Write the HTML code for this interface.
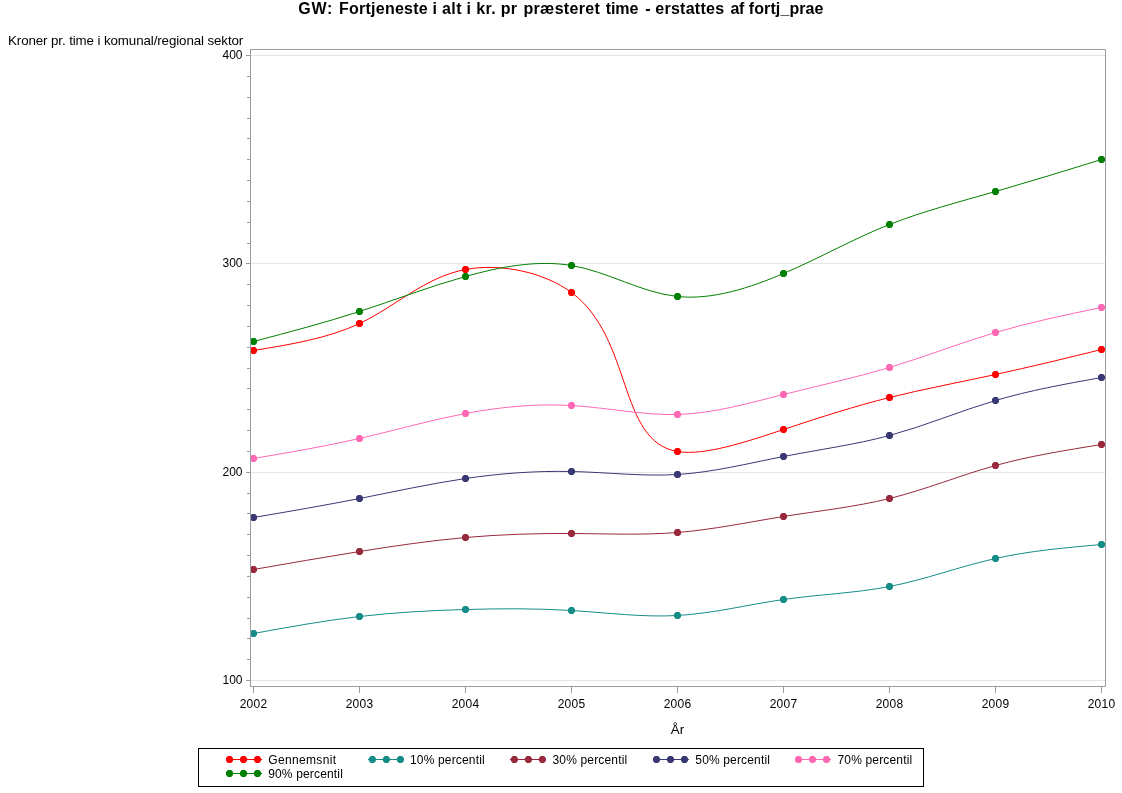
<!DOCTYPE html>
<html><head><meta charset="utf-8"><title>GW</title>
<style>
html,body{margin:0;padding:0;background:#fff;}
body{width:1122px;height:793px;overflow:hidden;position:relative;font-family:"Liberation Sans",sans-serif;color:#000;}
svg{position:absolute;left:0;top:0;will-change:transform;}
text{font-family:"Liberation Sans",sans-serif;fill:#000;}
</style></head><body>
<svg width="1122" height="793" viewBox="0 0 1122 793">
<!-- title -->
<text y="14.2" font-size="16" font-weight="bold"><tspan x="298.2" letter-spacing="0.8">GW:</tspan><tspan x="338.9" letter-spacing="0.26">Fortjeneste</tspan><tspan x="432.5" letter-spacing="0.35">i alt i kr. pr</tspan><tspan x="523.5" letter-spacing="0.3">præsteret</tspan><tspan x="605.8" letter-spacing="-0.1">time</tspan><tspan x="645.2" letter-spacing="0">-</tspan><tspan x="655.3" letter-spacing="0.26">erstattes</tspan><tspan x="730.5" letter-spacing="-0.3">af</tspan><tspan x="748.8" letter-spacing="0.1">fortj_prae</tspan></text>
<text x="8" y="45" font-size="13.33" letter-spacing="-0.1">Kroner pr. time i komunal/regional sektor</text>
<!-- grid -->
<g stroke="#e6e6e6" stroke-width="1" shape-rendering="crispEdges">
<line x1="251" x2="1105" y1="55.5" y2="55.5"/>
<line x1="251" x2="1105" y1="263.5" y2="263.5"/>
<line x1="251" x2="1105" y1="472.5" y2="472.5"/>
<line x1="251" x2="1105" y1="680.5" y2="680.5"/>
</g>
<g stroke="#989da2" stroke-width="1" shape-rendering="crispEdges">
<line x1="246" x2="250" y1="680.5" y2="680.5"/>
<line x1="247" x2="250" y1="659.5" y2="659.5"/>
<line x1="247" x2="250" y1="638.5" y2="638.5"/>
<line x1="247" x2="250" y1="618.5" y2="618.5"/>
<line x1="247" x2="250" y1="597.5" y2="597.5"/>
<line x1="247" x2="250" y1="576.5" y2="576.5"/>
<line x1="247" x2="250" y1="555.5" y2="555.5"/>
<line x1="247" x2="250" y1="534.5" y2="534.5"/>
<line x1="247" x2="250" y1="513.5" y2="513.5"/>
<line x1="247" x2="250" y1="493.5" y2="493.5"/>
<line x1="246" x2="250" y1="472.5" y2="472.5"/>
<line x1="247" x2="250" y1="451.5" y2="451.5"/>
<line x1="247" x2="250" y1="430.5" y2="430.5"/>
<line x1="247" x2="250" y1="409.5" y2="409.5"/>
<line x1="247" x2="250" y1="388.5" y2="388.5"/>
<line x1="247" x2="250" y1="368.5" y2="368.5"/>
<line x1="247" x2="250" y1="347.5" y2="347.5"/>
<line x1="247" x2="250" y1="326.5" y2="326.5"/>
<line x1="247" x2="250" y1="305.5" y2="305.5"/>
<line x1="247" x2="250" y1="284.5" y2="284.5"/>
<line x1="246" x2="250" y1="263.5" y2="263.5"/>
<line x1="247" x2="250" y1="243.5" y2="243.5"/>
<line x1="247" x2="250" y1="222.5" y2="222.5"/>
<line x1="247" x2="250" y1="201.5" y2="201.5"/>
<line x1="247" x2="250" y1="180.5" y2="180.5"/>
<line x1="247" x2="250" y1="159.5" y2="159.5"/>
<line x1="247" x2="250" y1="138.5" y2="138.5"/>
<line x1="247" x2="250" y1="118.5" y2="118.5"/>
<line x1="247" x2="250" y1="97.5" y2="97.5"/>
<line x1="247" x2="250" y1="76.5" y2="76.5"/>
<line x1="246" x2="250" y1="55.5" y2="55.5"/>
<line x1="253.5" x2="253.5" y1="687" y2="693"/>
<line x1="359.5" x2="359.5" y1="687" y2="693"/>
<line x1="465.5" x2="465.5" y1="687" y2="693"/>
<line x1="571.5" x2="571.5" y1="687" y2="693"/>
<line x1="677.5" x2="677.5" y1="687" y2="693"/>
<line x1="783.5" x2="783.5" y1="687" y2="693"/>
<line x1="889.5" x2="889.5" y1="687" y2="693"/>
<line x1="995.5" x2="995.5" y1="687" y2="693"/>
<line x1="1101.5" x2="1101.5" y1="687" y2="693"/>
</g>
<g font-size="12" text-anchor="end">
<text x="242.5" y="58.8">400</text>
<text x="242.5" y="266.8">300</text>
<text x="242.5" y="475.8">200</text>
<text x="242.5" y="683.8">100</text>
</g>
<g font-size="12" text-anchor="middle" letter-spacing="0.25">
<text x="253.5" y="708">2002</text>
<text x="359.5" y="708">2003</text>
<text x="465.5" y="708">2004</text>
<text x="571.5" y="708">2005</text>
<text x="677.5" y="708">2006</text>
<text x="783.5" y="708">2007</text>
<text x="889.5" y="708">2008</text>
<text x="995.5" y="708">2009</text>
<text x="1101.5" y="708">2010</text>
</g>
<text x="677.5" y="734" font-size="13.3" text-anchor="middle">År</text>
<path d="M253.5 350.5C290.8 344.4 328 338.4 359.5 323.5C395.9 306.3 424.7 277.2 465.5 269.5C500.2 263 543.7 271.9 571.5 292.5C633.3 338.3 617.3 441.5 677.5 451.5C704.5 456 746.7 441.7 783.5 429.5C821.9 416.8 854.3 406.3 889.5 397.5C923.4 389.1 959.9 382.2 995.5 374.5C1031.4 366.7 1066.5 358.1 1101.5 349.5" fill="none" stroke="#ff0000" stroke-width="1"/>
<path fill="#ff0000" d="M253.5 350.5m-1.6-3.5h3.2l1.9 1.9v3.2l-1.9 1.9h-3.2l-1.9-1.9v-3.2zM359.5 323.5m-1.6-3.5h3.2l1.9 1.9v3.2l-1.9 1.9h-3.2l-1.9-1.9v-3.2zM465.5 269.5m-1.6-3.5h3.2l1.9 1.9v3.2l-1.9 1.9h-3.2l-1.9-1.9v-3.2zM571.5 292.5m-1.6-3.5h3.2l1.9 1.9v3.2l-1.9 1.9h-3.2l-1.9-1.9v-3.2zM677.5 451.5m-1.6-3.5h3.2l1.9 1.9v3.2l-1.9 1.9h-3.2l-1.9-1.9v-3.2zM783.5 429.5m-1.6-3.5h3.2l1.9 1.9v3.2l-1.9 1.9h-3.2l-1.9-1.9v-3.2zM889.5 397.5m-1.6-3.5h3.2l1.9 1.9v3.2l-1.9 1.9h-3.2l-1.9-1.9v-3.2zM995.5 374.5m-1.6-3.5h3.2l1.9 1.9v3.2l-1.9 1.9h-3.2l-1.9-1.9v-3.2zM1101.5 349.5m-1.6-3.5h3.2l1.9 1.9v3.2l-1.9 1.9h-3.2l-1.9-1.9v-3.2z"/>
<path d="M253.5 633.5C288.6 627.1 323.8 620.7 359.5 616.5C394.5 612.4 430 610.5 465.5 609.5C500.8 608.5 536.1 608.3 571.5 610.5C607 612.7 642.6 617.5 677.5 615.5C713.1 613.5 747.8 604.6 783.5 599.5C818.9 594.4 855.1 593.2 889.5 586.5C925.6 579.5 959.6 566.5 995.5 558.5C1029.7 550.8 1065.6 547.7 1101.5 544.5" fill="none" stroke="#158c88" stroke-width="1"/>
<path fill="#158c88" d="M253.5 633.5m-1.6-3.5h3.2l1.9 1.9v3.2l-1.9 1.9h-3.2l-1.9-1.9v-3.2zM359.5 616.5m-1.6-3.5h3.2l1.9 1.9v3.2l-1.9 1.9h-3.2l-1.9-1.9v-3.2zM465.5 609.5m-1.6-3.5h3.2l1.9 1.9v3.2l-1.9 1.9h-3.2l-1.9-1.9v-3.2zM571.5 610.5m-1.6-3.5h3.2l1.9 1.9v3.2l-1.9 1.9h-3.2l-1.9-1.9v-3.2zM677.5 615.5m-1.6-3.5h3.2l1.9 1.9v3.2l-1.9 1.9h-3.2l-1.9-1.9v-3.2zM783.5 599.5m-1.6-3.5h3.2l1.9 1.9v3.2l-1.9 1.9h-3.2l-1.9-1.9v-3.2zM889.5 586.5m-1.6-3.5h3.2l1.9 1.9v3.2l-1.9 1.9h-3.2l-1.9-1.9v-3.2zM995.5 558.5m-1.6-3.5h3.2l1.9 1.9v3.2l-1.9 1.9h-3.2l-1.9-1.9v-3.2zM1101.5 544.5m-1.6-3.5h3.2l1.9 1.9v3.2l-1.9 1.9h-3.2l-1.9-1.9v-3.2z"/>
<path d="M253.5 569.5C288.8 563.4 324 557.2 359.5 551.5C394.6 545.9 429.9 540.7 465.5 537.5C500.6 534.4 536 533.3 571.5 533.5C607 533.7 642.6 535.3 677.5 532.5C713.2 529.6 748.1 522.2 783.5 516.5C819.1 510.8 855.4 506.9 889.5 498.5C925.7 489.6 959.6 475.5 995.5 465.5C1029.6 456 1065.6 450.3 1101.5 444.5" fill="none" stroke="#98283c" stroke-width="1"/>
<path fill="#98283c" d="M253.5 569.5m-1.6-3.5h3.2l1.9 1.9v3.2l-1.9 1.9h-3.2l-1.9-1.9v-3.2zM359.5 551.5m-1.6-3.5h3.2l1.9 1.9v3.2l-1.9 1.9h-3.2l-1.9-1.9v-3.2zM465.5 537.5m-1.6-3.5h3.2l1.9 1.9v3.2l-1.9 1.9h-3.2l-1.9-1.9v-3.2zM571.5 533.5m-1.6-3.5h3.2l1.9 1.9v3.2l-1.9 1.9h-3.2l-1.9-1.9v-3.2zM677.5 532.5m-1.6-3.5h3.2l1.9 1.9v3.2l-1.9 1.9h-3.2l-1.9-1.9v-3.2zM783.5 516.5m-1.6-3.5h3.2l1.9 1.9v3.2l-1.9 1.9h-3.2l-1.9-1.9v-3.2zM889.5 498.5m-1.6-3.5h3.2l1.9 1.9v3.2l-1.9 1.9h-3.2l-1.9-1.9v-3.2zM995.5 465.5m-1.6-3.5h3.2l1.9 1.9v3.2l-1.9 1.9h-3.2l-1.9-1.9v-3.2zM1101.5 444.5m-1.6-3.5h3.2l1.9 1.9v3.2l-1.9 1.9h-3.2l-1.9-1.9v-3.2z"/>
<path d="M253.5 517.5C288.9 511.5 324.4 505.4 359.5 498.5C394.7 491.6 429.7 483.8 465.5 478.5C500.3 473.4 535.8 470.7 571.5 471.5C607 472.3 642.7 476.6 677.5 474.5C713.3 472.3 748.1 463.4 783.5 456.5C819.2 449.5 855.4 444.7 889.5 435.5C925.7 425.7 959.6 411.1 995.5 400.5C1029.6 390.4 1065.5 384 1101.5 377.5" fill="none" stroke="#3a3873" stroke-width="1"/>
<path fill="#3a3873" d="M253.5 517.5m-1.6-3.5h3.2l1.9 1.9v3.2l-1.9 1.9h-3.2l-1.9-1.9v-3.2zM359.5 498.5m-1.6-3.5h3.2l1.9 1.9v3.2l-1.9 1.9h-3.2l-1.9-1.9v-3.2zM465.5 478.5m-1.6-3.5h3.2l1.9 1.9v3.2l-1.9 1.9h-3.2l-1.9-1.9v-3.2zM571.5 471.5m-1.6-3.5h3.2l1.9 1.9v3.2l-1.9 1.9h-3.2l-1.9-1.9v-3.2zM677.5 474.5m-1.6-3.5h3.2l1.9 1.9v3.2l-1.9 1.9h-3.2l-1.9-1.9v-3.2zM783.5 456.5m-1.6-3.5h3.2l1.9 1.9v3.2l-1.9 1.9h-3.2l-1.9-1.9v-3.2zM889.5 435.5m-1.6-3.5h3.2l1.9 1.9v3.2l-1.9 1.9h-3.2l-1.9-1.9v-3.2zM995.5 400.5m-1.6-3.5h3.2l1.9 1.9v3.2l-1.9 1.9h-3.2l-1.9-1.9v-3.2zM1101.5 377.5m-1.6-3.5h3.2l1.9 1.9v3.2l-1.9 1.9h-3.2l-1.9-1.9v-3.2z"/>
<path d="M253.5 458.5C289.1 452.5 324.7 446.4 359.5 438.5C394.9 430.4 429.4 420.3 465.5 413.5C500 407 535.9 403.4 571.5 405.5C607.2 407.6 642.6 415.4 677.5 414.5C713.3 413.5 748.5 403.3 783.5 394.5C819.4 385.4 855.1 377.8 889.5 367.5C925.2 356.8 959.6 343.1 995.5 332.5C1029.9 322.3 1065.7 314.9 1101.5 307.5" fill="none" stroke="#ff69b4" stroke-width="1"/>
<path fill="#ff69b4" d="M253.5 458.5m-1.6-3.5h3.2l1.9 1.9v3.2l-1.9 1.9h-3.2l-1.9-1.9v-3.2zM359.5 438.5m-1.6-3.5h3.2l1.9 1.9v3.2l-1.9 1.9h-3.2l-1.9-1.9v-3.2zM465.5 413.5m-1.6-3.5h3.2l1.9 1.9v3.2l-1.9 1.9h-3.2l-1.9-1.9v-3.2zM571.5 405.5m-1.6-3.5h3.2l1.9 1.9v3.2l-1.9 1.9h-3.2l-1.9-1.9v-3.2zM677.5 414.5m-1.6-3.5h3.2l1.9 1.9v3.2l-1.9 1.9h-3.2l-1.9-1.9v-3.2zM783.5 394.5m-1.6-3.5h3.2l1.9 1.9v3.2l-1.9 1.9h-3.2l-1.9-1.9v-3.2zM889.5 367.5m-1.6-3.5h3.2l1.9 1.9v3.2l-1.9 1.9h-3.2l-1.9-1.9v-3.2zM995.5 332.5m-1.6-3.5h3.2l1.9 1.9v3.2l-1.9 1.9h-3.2l-1.9-1.9v-3.2zM1101.5 307.5m-1.6-3.5h3.2l1.9 1.9v3.2l-1.9 1.9h-3.2l-1.9-1.9v-3.2z"/>
<path d="M253.5 341.5C289.3 332.1 325.2 322.6 359.5 311.5C394.6 300.1 428.2 286.9 465.5 276.5C499.7 266.9 537.2 259.7 571.5 265.5C608.2 271.7 641.3 292.7 677.5 296.5C712.5 300.2 750.3 287.7 783.5 273.5C821.4 257.3 853.3 238.8 889.5 224.5C922.7 211.4 959.5 201.8 995.5 191.5C1031.3 181.3 1066.4 170.4 1101.5 159.5" fill="none" stroke="#008000" stroke-width="1"/>
<path fill="#008000" d="M253.5 341.5m-1.6-3.5h3.2l1.9 1.9v3.2l-1.9 1.9h-3.2l-1.9-1.9v-3.2zM359.5 311.5m-1.6-3.5h3.2l1.9 1.9v3.2l-1.9 1.9h-3.2l-1.9-1.9v-3.2zM465.5 276.5m-1.6-3.5h3.2l1.9 1.9v3.2l-1.9 1.9h-3.2l-1.9-1.9v-3.2zM571.5 265.5m-1.6-3.5h3.2l1.9 1.9v3.2l-1.9 1.9h-3.2l-1.9-1.9v-3.2zM677.5 296.5m-1.6-3.5h3.2l1.9 1.9v3.2l-1.9 1.9h-3.2l-1.9-1.9v-3.2zM783.5 273.5m-1.6-3.5h3.2l1.9 1.9v3.2l-1.9 1.9h-3.2l-1.9-1.9v-3.2zM889.5 224.5m-1.6-3.5h3.2l1.9 1.9v3.2l-1.9 1.9h-3.2l-1.9-1.9v-3.2zM995.5 191.5m-1.6-3.5h3.2l1.9 1.9v3.2l-1.9 1.9h-3.2l-1.9-1.9v-3.2zM1101.5 159.5m-1.6-3.5h3.2l1.9 1.9v3.2l-1.9 1.9h-3.2l-1.9-1.9v-3.2z"/>
<!-- frame -->
<rect x="250.5" y="49.5" width="855" height="637" fill="none" stroke="#989da2" stroke-width="1" shape-rendering="crispEdges"/>
<rect x="198.5" y="748.5" width="725" height="38" fill="#fff" stroke="#000" stroke-width="1" shape-rendering="crispEdges"/>
<line x1="226" x2="262" y1="759.5" y2="759.5" stroke="#ff0000" stroke-width="1"/>
<path fill="#ff0000" d="M229.5 759.5m-1.6-3.5h3.2l1.9 1.9v3.2l-1.9 1.9h-3.2l-1.9-1.9v-3.2zM243.5 759.5m-1.6-3.5h3.2l1.9 1.9v3.2l-1.9 1.9h-3.2l-1.9-1.9v-3.2zM257.5 759.5m-1.6-3.5h3.2l1.9 1.9v3.2l-1.9 1.9h-3.2l-1.9-1.9v-3.2z"/>
<text x="268.2" y="764.0" font-size="12" letter-spacing="0.36">Gennemsnit</text>
<line x1="367.9" x2="403.9" y1="759.5" y2="759.5" stroke="#158c88" stroke-width="1"/>
<path fill="#158c88" d="M372.4 759.5m-1.6-3.5h3.2l1.9 1.9v3.2l-1.9 1.9h-3.2l-1.9-1.9v-3.2zM386.4 759.5m-1.6-3.5h3.2l1.9 1.9v3.2l-1.9 1.9h-3.2l-1.9-1.9v-3.2zM400.4 759.5m-1.6-3.5h3.2l1.9 1.9v3.2l-1.9 1.9h-3.2l-1.9-1.9v-3.2z"/>
<text x="410" y="764.0" font-size="12" letter-spacing="0.16">10% percentil</text>
<line x1="509.9" x2="545.9" y1="759.5" y2="759.5" stroke="#98283c" stroke-width="1"/>
<path fill="#98283c" d="M514.4 759.5m-1.6-3.5h3.2l1.9 1.9v3.2l-1.9 1.9h-3.2l-1.9-1.9v-3.2zM528.4 759.5m-1.6-3.5h3.2l1.9 1.9v3.2l-1.9 1.9h-3.2l-1.9-1.9v-3.2zM542.4 759.5m-1.6-3.5h3.2l1.9 1.9v3.2l-1.9 1.9h-3.2l-1.9-1.9v-3.2z"/>
<text x="552.5" y="764.0" font-size="12" letter-spacing="0.16">30% percentil</text>
<line x1="653" x2="689" y1="759.5" y2="759.5" stroke="#3a3873" stroke-width="1"/>
<path fill="#3a3873" d="M656.5 759.5m-1.6-3.5h3.2l1.9 1.9v3.2l-1.9 1.9h-3.2l-1.9-1.9v-3.2zM670.5 759.5m-1.6-3.5h3.2l1.9 1.9v3.2l-1.9 1.9h-3.2l-1.9-1.9v-3.2zM684.5 759.5m-1.6-3.5h3.2l1.9 1.9v3.2l-1.9 1.9h-3.2l-1.9-1.9v-3.2z"/>
<text x="695.3" y="764.0" font-size="12" letter-spacing="0.16">50% percentil</text>
<line x1="795" x2="831" y1="759.5" y2="759.5" stroke="#ff69b4" stroke-width="1"/>
<path fill="#ff69b4" d="M798.5 759.5m-1.6-3.5h3.2l1.9 1.9v3.2l-1.9 1.9h-3.2l-1.9-1.9v-3.2zM812.5 759.5m-1.6-3.5h3.2l1.9 1.9v3.2l-1.9 1.9h-3.2l-1.9-1.9v-3.2zM826.5 759.5m-1.6-3.5h3.2l1.9 1.9v3.2l-1.9 1.9h-3.2l-1.9-1.9v-3.2z"/>
<text x="837.5" y="764.0" font-size="12" letter-spacing="0.16">70% percentil</text>
<line x1="226" x2="262" y1="773.5" y2="773.5" stroke="#008000" stroke-width="1"/>
<path fill="#008000" d="M229.5 773.5m-1.6-3.5h3.2l1.9 1.9v3.2l-1.9 1.9h-3.2l-1.9-1.9v-3.2zM243.5 773.5m-1.6-3.5h3.2l1.9 1.9v3.2l-1.9 1.9h-3.2l-1.9-1.9v-3.2zM257.5 773.5m-1.6-3.5h3.2l1.9 1.9v3.2l-1.9 1.9h-3.2l-1.9-1.9v-3.2z"/>
<text x="268.2" y="778.0" font-size="12" letter-spacing="0.16">90% percentil</text>
</svg>
</body></html>
